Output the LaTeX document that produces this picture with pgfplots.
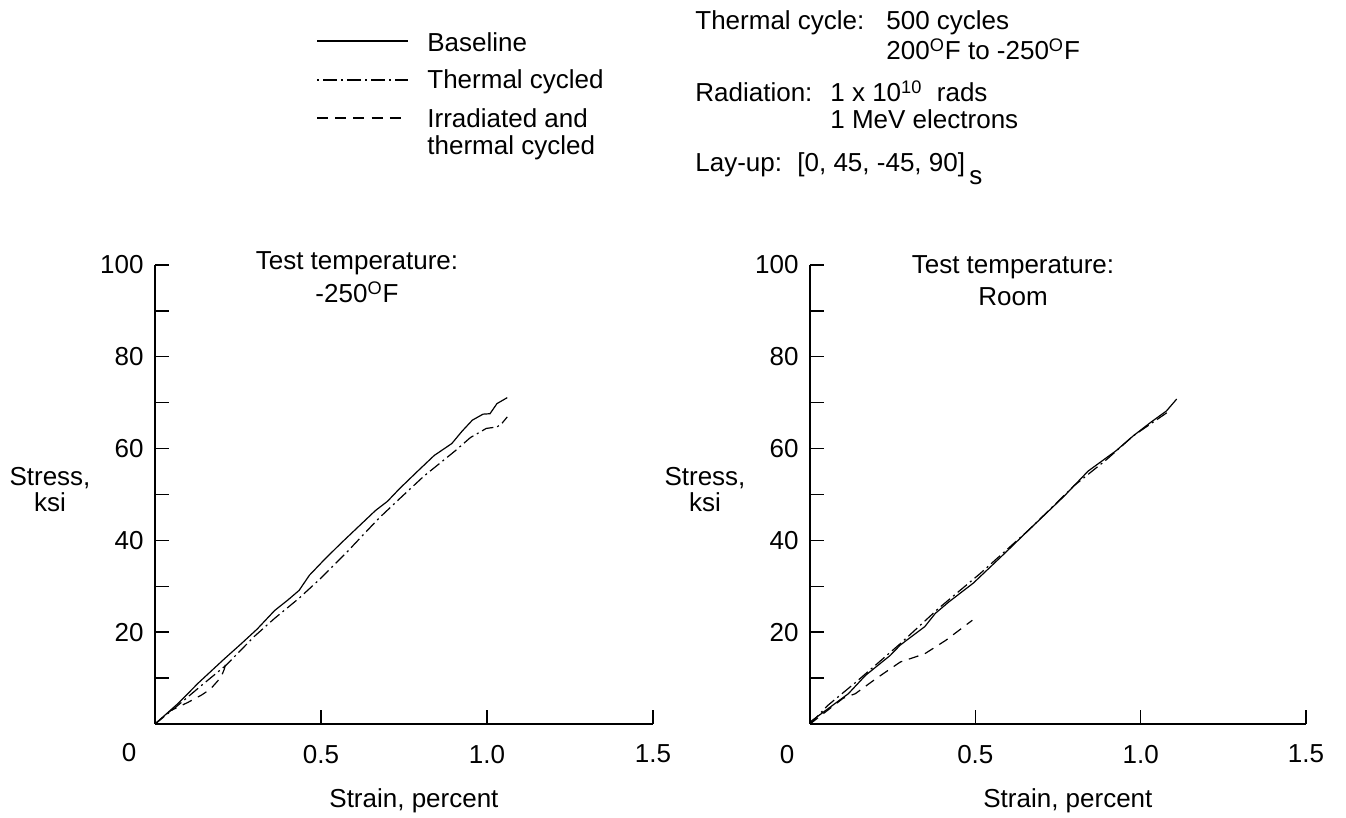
\documentclass[border=0pt]{standalone}
\usepackage{fontspec}
\setmainfont{Liberation Sans}
\usepackage{pgfplots}
\usepackage{pgfplotstable}
\pgfplotsset{compat=1.18}

% Left panel: test temperature -250 F
\pgfplotstableread{
x y
0 0
0.07 4.5
0.13 8.9
0.209 14.2
0.26 17.5
0.308 20.7
0.36 24.7
0.40 27.0
0.434 29.1
0.465 32.4
0.51 35.8
0.559 39.3
0.61 42.8
0.664 46.5
0.70 48.5
0.737 51.3
0.79 55.0
0.841 58.5
0.894 61.1
0.925 63.8
0.956 66.2
0.988 67.5
1.009 67.6
1.030 69.8
1.061 71.1
}\leftbase
\pgfplotstableread{
x y
0 0
0.068 4.0
0.14 8.4
0.214 12.8
0.298 19.0
0.36 23.0
0.434 27.4
0.50 31.8
0.58 37.6
0.674 44.8
0.74 49.3
0.81 54.0
0.904 59.5
0.95 62.4
0.998 64.4
1.03 64.7
1.045 65.5
1.061 66.9
}\leftcyc
\pgfplotstableread{
x y
0 0
0.047 2.9
0.099 4.7
0.14 6.3
0.167 7.6
0.199 10.2
0.209 12.0
0.214 13.5
}\leftirr

% Right panel: room temperature
\pgfplotstableread{
x y
0 0
0.005 0.7
0.116 6.6
0.168 10.6
0.242 14.9
0.273 17.2
0.347 21.2
0.379 24.1
0.42 26.6
0.494 30.7
0.589 37.2
0.652 41.6
0.768 49.6
0.841 55.1
0.925 59.5
0.978 62.8
1.03 65.7
1.078 68.2
1.109 70.8
}\rightbase
\pgfplotstableread{
x y
0 0
0.053 4.0
0.137 9.0
0.273 17.5
0.389 25.2
0.515 32.8
0.662 42.3
0.80 52.0
0.90 57.8
0.978 62.8
1.083 68.0
}\rightcyc
\pgfplotstableread{
x y
0 0
0.10 5.6
0.137 6.6
0.20 9.9
0.273 13.5
0.347 15.3
0.41 18.2
0.491 22.6
}\rightirr

\tikzset{
  solidc/.style={black, line width=0.6pt},
  dashdotc/.style={black, line width=0.6pt, dash pattern=on 6pt off 2pt on 1pt off 2pt},
  dashedc/.style={black, line width=0.6pt, dash pattern=on 5pt off 3.5pt},
}

\pgfplotsset{
  strainaxis/.style={
    scale only axis, height=229.5pt,
    xmin=0, xmax=1.5, ymin=0, ymax=100,
    axis x line*=bottom, axis y line*=left,
    axis line style={black, line width=0.7pt, -},
    xtick={0.5,1,1.5}, xticklabels={0.5,1.0,1.5},
    ytick={20,40,60,80,100}, yticklabels={20,40,60,80,100},
    minor ytick={10,30,50,70,90},
    tick align=inside,
    major tick length=7pt, minor tick length=7pt,
    every tick/.style={black, line width=0.7pt},
    xticklabel style={yshift=-7pt},
    yticklabel style={xshift=-2.2pt},
    every axis x label/.style={at={(rel axis cs:0.52,0)}, anchor=base, yshift=-42pt},
    every axis y label/.style={at={(rel axis cs:0,0.51)}, anchor=center, xshift=-52.5pt, align=center, font=\fontsize{13}{13}\selectfont},
    xlabel={Strain, percent}, ylabel={Stress,\\ksi},
    clip=false,
  },
}

\begin{document}
\begin{tikzpicture}[font=\fontsize{13}{16}\selectfont]
\path[use as bounding box] (0,0) rectangle (673pt,409pt);

\begin{axis}[strainaxis, width=249pt, at={(77.5pt,47pt)}, anchor=south west]
\addplot[solidc] table {\leftbase};
\addplot[dashdotc] table {\leftcyc};
\addplot[dashedc] table {\leftirr};
\end{axis}

\begin{axis}[strainaxis, width=248pt, at={(405pt,47pt)}, anchor=south west]
\addplot[solidc] table {\rightbase};
\addplot[dashdotc] table {\rightcyc};
\addplot[dashedc] table {\rightirr};
\end{axis}

% corner zero labels
\node[anchor=center] at (64.5pt,32.5pt) {0};
\node[anchor=center] at (393.5pt,31.5pt) {0};

% panel titles
\node[anchor=base] at (178.5pt,274pt) {Test temperature:};
\node[anchor=base] at (178.5pt,257.5pt) {-250\textsuperscript{O}F};
\node[anchor=base] at (506.5pt,272pt) {Test temperature:};
\node[anchor=base] at (506.5pt,256pt) {Room};

% legend
\draw[solidc] (158.5pt,388.5pt) -- (204pt,388.5pt);
\draw[black, line width=0.6pt, dash pattern=on 1pt off 2pt on 7pt off 2pt] (158.5pt,369pt) -- (204pt,369pt);
\draw[black, line width=0.6pt, dash pattern=on 5.5pt off 3.6pt] (158.5pt,350pt) -- (204pt,350pt);
\begin{scope}[every node/.style={inner sep=0pt, anchor=base west}]
\node at (213.5pt,383pt) {Baseline};
\node at (213.5pt,364.5pt) {Thermal cycled};
\node at (213.5pt,345pt) {Irradiated and};
\node at (213.5pt,331.5pt) {thermal cycled};

\node at (347.5pt,394pt) {Thermal cycle:};
\node at (443pt,394pt) {500 cycles};
\node at (443pt,379pt) {200\textsuperscript{O}F to -250\textsuperscript{O}F};
\node at (347.5pt,358pt) {Radiation:};
\node at (415pt,358pt) {1 x 10\textsuperscript{10}\ \ rads};
\node at (415pt,344.5pt) {1 MeV electrons};
\node at (347.5pt,323pt) {Lay-up:};
\node at (398.5pt,323pt) {[0, 45, -45, 90]\,\raisebox{-6.5pt}{s}};
\end{scope}
\end{tikzpicture}
\end{document}
